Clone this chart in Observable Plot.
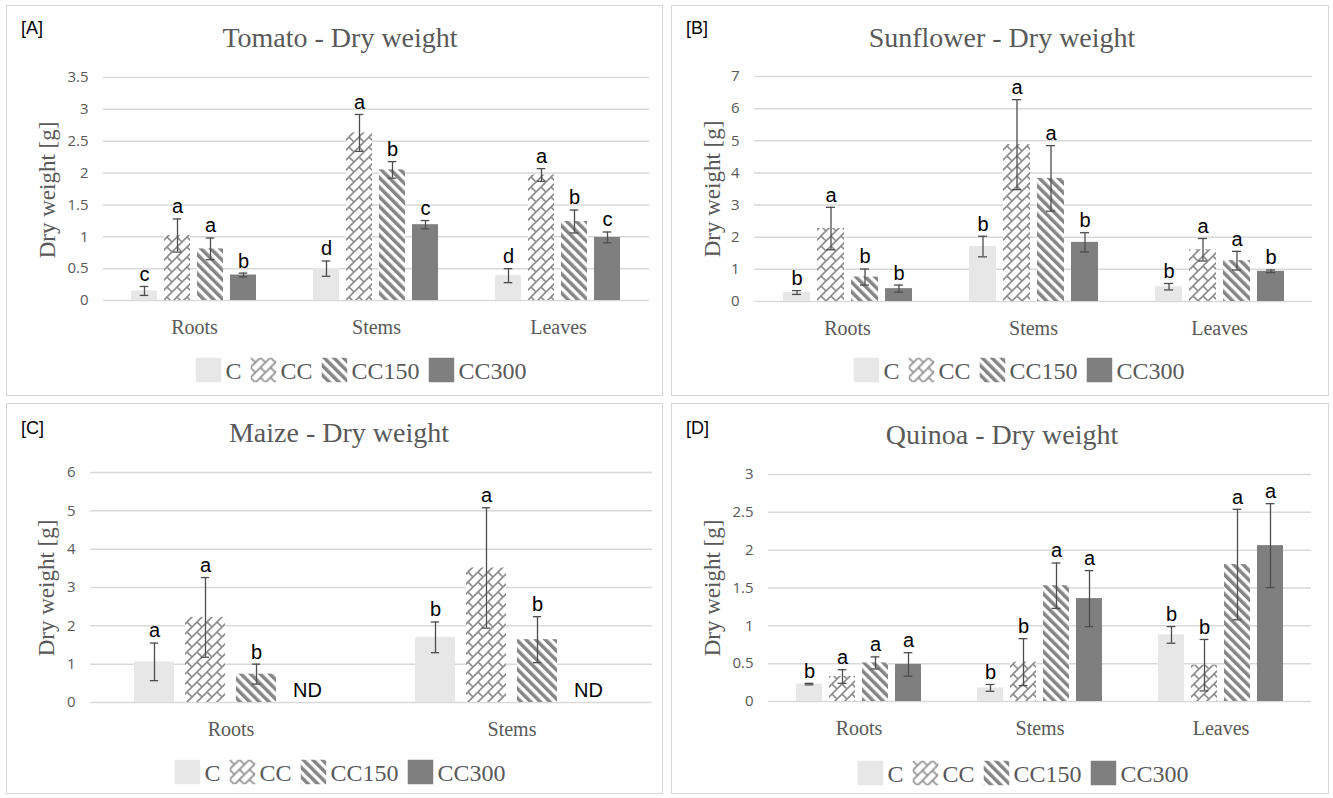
<!DOCTYPE html>
<html>
<head>
<meta charset="utf-8">
<script src="https://cdn.jsdelivr.net/npm/d3@7"></script>
<script src="https://cdn.jsdelivr.net/npm/@observablehq/plot@0.6"></script>
<style>
  html, body { margin: 0; padding: 0; background: #fff; }
  #page { position: relative; width: 1333px; height: 798px; overflow: hidden; background: #fff; }
  .panel { position: absolute; border: 1px solid #d6d6d6; box-sizing: border-box; }
  .tag { position: absolute; font-family: "Liberation Sans", Arial, sans-serif; font-size: 18px; line-height: 1; color: #000; }
  .title { position: absolute; transform: translate(-50%, -50%); font-family: "Liberation Serif", "Times New Roman", serif; font-size: 28px; color: #595959; white-space: nowrap; line-height: 1; }
  .ylab { position: absolute; transform: translate(-50%, -50%) rotate(-90deg); font-family: "Liberation Serif", "Times New Roman", serif; font-size: 23px; color: #595959; white-space: nowrap; line-height: 1; }
  .legend { position: absolute; transform: translate(-50%, -50%); display: flex; align-items: center; font-family: "Liberation Serif", "Times New Roman", serif; font-size: 24px; color: #595959; white-space: nowrap; line-height: 1; }
  .legend .item { display: flex; align-items: center; margin-right: 9px; }
  .legend .item:last-child { margin-right: 0; }
  .legend svg { display: block; margin-right: 4px; }
  .chart { position: absolute; }
</style>
</head>
<body>
<div id="page">
<svg width="0" height="0" style="position:absolute">
  <defs>
    <pattern id="pat-cc" patternUnits="userSpaceOnUse" width="10" height="10">
      <rect width="10" height="10" fill="#ffffff"/>
      <path d="M-1,11 L11,-1 M0,0 L5,5 M-1,1 L1,-1 M9,11 L11,9" stroke="#8c8c8c" stroke-width="1.6" fill="none"/>
    </pattern>
    <pattern id="pat-cc150" patternUnits="userSpaceOnUse" width="6.8" height="6.8" patternTransform="rotate(-45)">
      <rect width="6.8" height="6.8" fill="#ffffff"/>
      <rect x="0" y="0" width="3.5" height="6.8" fill="#858585"/>
    </pattern>
  </defs>
</svg>
</div>
<script>
// ---- data ----
const treatments = ["C", "CC", "CC150", "CC300"];
const organs3 = ["Roots", "Stems", "Leaves"];
const organs2 = ["Roots", "Stems"];

const tomatoMean = [0.15, 1.02, 0.81, 0.40, 0.50, 2.63, 2.05, 1.19, 0.39, 1.97, 1.24, 0.99];
const tomatoErr = [0.07, 0.26, 0.17, 0.03, 0.12, 0.29, 0.13, 0.065, 0.11, 0.10, 0.18, 0.085];
const tomatoLetters = ["c", "a", "a", "b", "d", "a", "b", "c", "d", "a", "b", "c"];

const sunflowerMean = [0.28, 2.27, 0.76, 0.40, 1.71, 4.88, 3.83, 1.84, 0.46, 1.61, 1.27, 0.94];
const sunflowerErr = [0.06, 0.66, 0.25, 0.11, 0.32, 1.40, 1.02, 0.30, 0.10, 0.35, 0.29, 0.04];
const sunflowerLetters = ["b", "a", "b", "b", "b", "a", "a", "b", "b", "a", "a", "b"];

const maizeMean = [1.06, 2.22, 0.74, null, 1.70, 3.51, 1.64, null];
const maizeErr = [0.49, 1.04, 0.26, null, 0.40, 1.57, 0.60, null];
const maizeLetters = ["a", "a", "b", "ND", "b", "a", "b", "ND"];

const quinoaMean = [0.23, 0.33, 0.51, 0.49, 0.18, 0.52, 1.53, 1.36, 0.88, 0.48, 1.81, 2.06];
const quinoaErr = [0.01, 0.09, 0.08, 0.155, 0.045, 0.31, 0.30, 0.37, 0.11, 0.34, 0.73, 0.555];
const quinoaLetters = ["b", "a", "a", "a", "b", "b", "a", "a", "b", "b", "a", "a"];

const yTicksTomato = [0, 0.5, 1, 1.5, 2, 2.5, 3, 3.5];
const yTicksSunflower = [0, 1, 2, 3, 4, 5, 6, 7];
const yTicksMaize = [0, 1, 2, 3, 4, 5, 6];
const yTicksQuinoa = [0, 0.5, 1, 1.5, 2, 2.5, 3];

// ---- styles ----
const fills = ["#e7e7e7", "url(#pat-cc)", "url(#pat-cc150)", "#7f7f7f"];
const page = document.getElementById("page");

const panels = [
  {tag: "[A]", title: "Tomato - Dry weight", organs: organs3, mean: tomatoMean, err: tomatoErr, letters: tomatoLetters, ticks: yTicksTomato,
   box: [6, 5, 657, 391], tagPos: [21, 19], titlePos: [340, 38], ylabPos: [47, 190], legendPos: [361, 370],
   svgLeft: 6, plotLeft: 102, plotRight: 650, plotTop: 77, plotBottom: 300},
  {tag: "[B]", title: "Sunflower - Dry weight", organs: organs3, mean: sunflowerMean, err: sunflowerErr, letters: sunflowerLetters, ticks: yTicksSunflower,
   box: [671, 5, 658, 391], tagPos: [686, 19], titlePos: [1002, 38], ylabPos: [712, 189], legendPos: [1019, 370],
   svgLeft: 671, plotLeft: 754, plotRight: 1312, plotTop: 76, plotBottom: 301},
  {tag: "[C]", title: "Maize - Dry weight", organs: organs2, mean: maizeMean, err: maizeErr, letters: maizeLetters, ticks: yTicksMaize,
   box: [6, 403, 657, 391], tagPos: [21, 419], titlePos: [339, 433], ylabPos: [46, 588], legendPos: [340, 772],
   svgLeft: 6, plotLeft: 89, plotRight: 652, plotTop: 472, plotBottom: 702},
  {tag: "[D]", title: "Quinoa - Dry weight", organs: organs3, mean: quinoaMean, err: quinoaErr, letters: quinoaLetters, ticks: yTicksQuinoa,
   box: [671, 403, 658, 391], tagPos: [686, 419], titlePos: [1002, 435], ylabPos: [712, 588], legendPos: [1023, 773],
   svgLeft: 671, plotLeft: 767, plotRight: 1312, plotTop: 474, plotBottom: 701}
];

const padIn = 0.21, padOut = 0.835;

function addDiv(cls, text, css) {
  const d = document.createElement("div");
  d.className = cls;
  if (text != null) d.textContent = text;
  Object.assign(d.style, css);
  page.appendChild(d);
  return d;
}

for (const p of panels) {
  addDiv("panel", null, {left: p.box[0] + "px", top: p.box[1] + "px", width: p.box[2] + "px", height: p.box[3] + "px"});
  addDiv("tag", p.tag, {left: p.tagPos[0] + "px", top: p.tagPos[1] + "px"});
  addDiv("title", p.title, {left: p.titlePos[0] + "px", top: p.titlePos[1] + "px"});
  addDiv("ylab", "Dry weight [g]", {left: p.ylabPos[0] + "px", top: p.ylabPos[1] + "px"});

  const rows = [];
  p.organs.forEach((o, i) => treatments.forEach((t, j) => {
    const k = i * 4 + j;
    rows.push({organ: o, treatment: t, mean: p.mean[k], err: p.err[k], letter: p.letters[k]});
  }));
  const bars = rows.filter(d => d.mean != null);
  const nd = rows.filter(d => d.mean == null);

  const plotW = p.plotRight - p.plotLeft;
  const band = plotW / p.organs.length;
  const bw = band * (1 - padIn) / (4 - padIn + 2 * padOut);
  const capInset = Math.max(0, (bw - 9) / 2);
  const mTop = 20, mBottom = 50, mRight = 12;
  const ymax = p.ticks[p.ticks.length - 1];

  const letterStyle = {fontFamily: "'Liberation Sans', Arial, sans-serif", fontSize: 20, fill: "#000"};
  const errStroke = "#4d4d4d";

  const chart = Plot.plot({
    width: p.plotRight + mRight - p.svgLeft,
    height: (p.plotBottom - p.plotTop) + mTop + mBottom,
    marginLeft: p.plotLeft - p.svgLeft,
    marginRight: mRight,
    marginTop: mTop,
    marginBottom: mBottom,
    style: {background: "transparent", overflow: "visible", fontFamily: "'Open Sans', sans-serif", fontSize: "15px", color: "#595959"},
    fx: {domain: p.organs, padding: 0, label: null, axis: "bottom", tickSize: 0, tickPadding: 19},
    x: {domain: treatments, paddingInner: padIn, paddingOuter: padOut, axis: null},
    y: {domain: [0, ymax], ticks: p.ticks, tickFormat: d => String(d), tickSize: 0, tickPadding: 15, label: null},
    color: {domain: treatments, range: fills},
    marks: [
      Plot.ruleY(p.ticks, {stroke: "#d9d9d9", strokeWidth: 1.5}),
      Plot.barY(bars, {fx: "organ", x: "treatment", y: "mean", fill: "treatment"}),
      Plot.ruleX(bars, {fx: "organ", x: "treatment", y1: d => d.mean - d.err, y2: d => d.mean + d.err, stroke: errStroke, strokeWidth: 1.3}),
      Plot.tickY(bars, {fx: "organ", x: "treatment", y: d => d.mean - d.err, stroke: errStroke, strokeWidth: 1.3, insetLeft: capInset, insetRight: capInset}),
      Plot.tickY(bars, {fx: "organ", x: "treatment", y: d => d.mean + d.err, stroke: errStroke, strokeWidth: 1.3, insetLeft: capInset, insetRight: capInset}),
      Plot.text(bars, {fx: "organ", x: "treatment", y: d => d.mean + d.err, text: "letter", dy: -12, ...letterStyle}),
      Plot.text(nd, {fx: "organ", x: "treatment", y: 0, text: "letter", dy: -12, ...letterStyle})
    ]
  });

  chart.classList.add("chart");
  chart.style.left = p.svgLeft + "px";
  chart.style.top = (p.plotTop - mTop) + "px";
  page.appendChild(chart);

  d3.select(chart).selectAll('[aria-label^="fx-axis"] text')
    .style("font-family", "'Liberation Serif', 'Times New Roman', serif")
    .style("font-size", "20px")
    .attr("fill", "#595959");
  d3.select(chart).selectAll('[aria-label^="y-axis"] text')
    .attr("fill", "#595959");

  // legend
  const leg = addDiv("legend", null, {left: p.legendPos[0] + "px", top: p.legendPos[1] + "px"});
  treatments.forEach((t, i) => {
    const item = document.createElement("div");
    item.className = "item";
    const sw = d3.create("svg").attr("width", 26).attr("height", 25);
    sw.append("rect").attr("width", 26).attr("height", 25).attr("fill", fills[i]);
    item.appendChild(sw.node());
    const lab = document.createElement("span");
    lab.textContent = t;
    item.appendChild(lab);
    leg.appendChild(item);
  });
}
</script>
</body>
</html>
